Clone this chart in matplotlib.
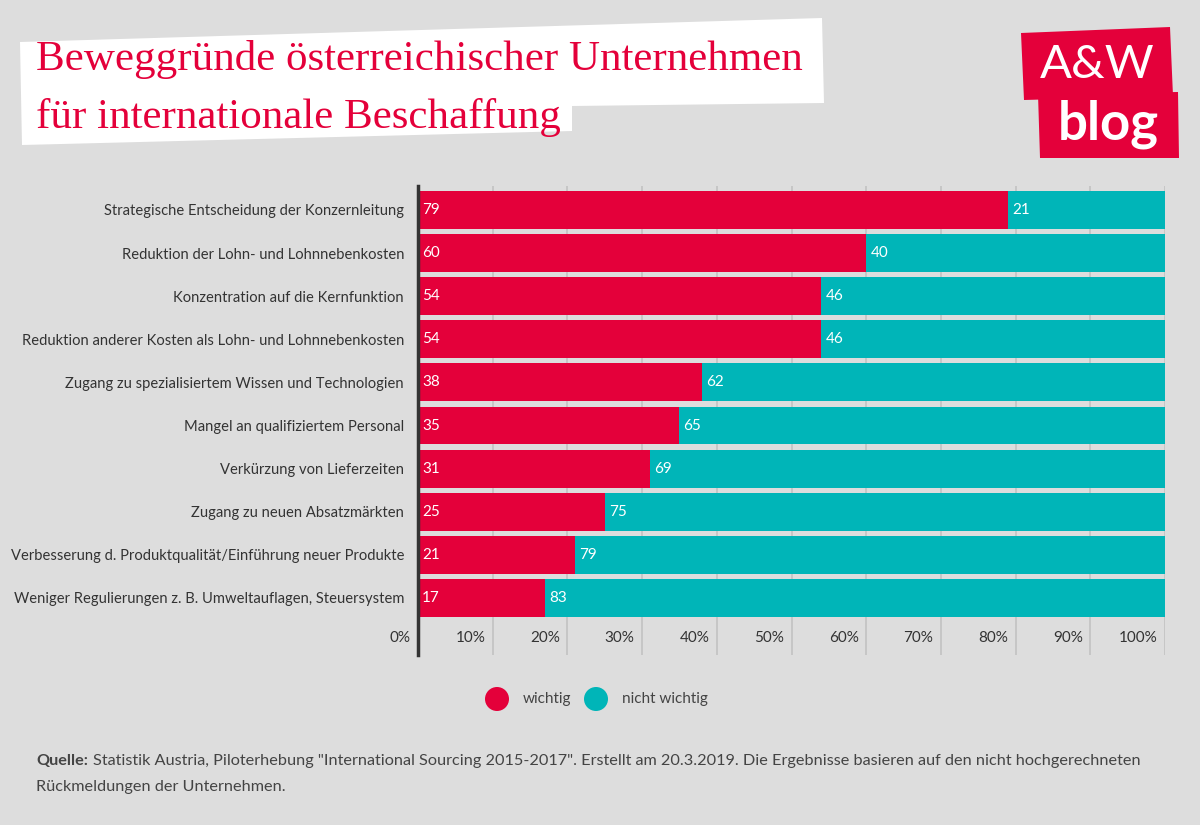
import matplotlib
matplotlib.use("Agg")
import matplotlib.pyplot as plt
from matplotlib.patches import Polygon, Circle

categories = [
    "Strategische Entscheidung der Konzernleitung",
    "Reduktion der Lohn- und Lohnnebenkosten",
    "Konzentration auf die Kernfunktion",
    "Reduktion anderer Kosten als Lohn- und Lohnnebenkosten",
    "Zugang zu spezialisiertem Wissen und Technologien",
    "Mangel an qualifiziertem Personal",
    "Verkürzung von Lieferzeiten",
    "Zugang zu neuen Absatzmärkten",
    "Verbesserung d. Produktqualität/Einführung neuer Produkte",
    "Weniger Regulierungen z. B. Umweltauflagen, Steuersystem",
]
wichtig = [79, 60, 54, 54, 38, 35, 31, 25, 21, 17]
nicht_wichtig = [21, 40, 46, 46, 62, 65, 69, 75, 79, 83]
tick_values = [0, 10, 20, 30, 40, 50, 60, 70, 80, 90, 100]
tick_labels = ["0%", "10%", "20%", "30%", "40%", "50%", "60%", "70%", "80%", "90%", "100%"]
series_names = ["wichtig", "nicht wichtig"]

RED = "#e4003a"
TEAL = "#00b5b8"
BG = "#dddddd"
TXT = "#333333"
FONT = ["Lato", "DejaVu Sans"]

W, H = 1200, 825
fig = plt.figure(figsize=(12, 8.25), dpi=100, facecolor=BG)

# overlay for decorations (pixel coords)
ov = fig.add_axes([0, 0, 1, 1], zorder=0)
ov.set_xlim(0, W)
ov.set_ylim(H, 0)
ov.axis("off")
ov.patch.set_alpha(0)

# title box
ov.add_patch(Polygon([(20, 42), (822, 18), (824, 103), (572, 106), (572, 131), (22, 145)],
                     closed=True, facecolor="white", edgecolor="none"))
title_font = ["Liberation Serif", "DejaVu Serif"]
ov.text(36, 70, "Beweggründe österreichischer Unternehmen", color=RED,
        fontsize=31, family=title_font, va="baseline", ha="left")
ov.text(36, 128, "für internationale Beschaffung", color=RED,
        fontsize=31, family=title_font, va="baseline", ha="left")

# logo
ov.add_patch(Polygon([(1021, 33), (1170, 27), (1173, 96), (1024, 100)],
                     closed=True, facecolor=RED, edgecolor="none"))
ov.add_patch(Polygon([(1038, 94), (1178, 92), (1179, 158), (1040, 158)],
                     closed=True, facecolor=RED, edgecolor="none"))
ov.text(1097, 65, "A&W", color="white", fontsize=34, family=FONT, ha="center", va="center")
ov.text(1108, 124, "blog", color="white", fontsize=38, family=FONT, fontweight="bold",
        ha="center", va="center")

# main axes
y0, pitch = 210, 43.1
top_px, bot_px = 186, 655
ax = fig.add_axes([418 / W, 1 - bot_px / H, 747 / W, (bot_px - top_px) / H], zorder=1)
ax.patch.set_alpha(0)
ypos = list(range(len(categories)))
ax.set_ylim((bot_px - y0) / pitch, (top_px - y0) / pitch)
ax.set_xlim(0, 100)

for v in tick_values[1:]:
    ax.axvline(v, color="#c2c2c2", lw=1.2, zorder=0)

ax.barh(ypos, wichtig, height=0.88, color=RED, zorder=2, label=series_names[0])
ax.barh(ypos, nicht_wichtig, left=wichtig, height=0.88, color=TEAL, zorder=2,
        label=series_names[1])

off = 0.55
for i in ypos:
    ax.text(off, i, str(wichtig[i]), color="white", fontsize=11, family=FONT,
            ha="left", va="center", zorder=3)
    ax.text(wichtig[i] + off, i, str(nicht_wichtig[i]), color="white", fontsize=11,
            family=FONT, ha="left", va="center", zorder=3)

ax.set_yticks(ypos)
ax.set_yticklabels(categories, family=FONT, fontsize=10.6, color=TXT)
ax.tick_params(axis="y", length=0, pad=10)
ax.set_xticks([])
for s in ["top", "right", "bottom"]:
    ax.spines[s].set_visible(False)
ax.spines["left"].set_color("#333333")
ax.spines["left"].set_linewidth(2.5)
ax.spines["left"].set_zorder(4)

ty = (638 - y0) / pitch
for v, lab in zip(tick_values, tick_labels):
    ax.text(v - 1.0, ty, lab, color=TXT, fontsize=11, family=FONT,
            ha="right", va="center", clip_on=False)

# legend
ov.add_patch(Circle((497, 699), 12, facecolor=RED, edgecolor="none"))
ov.text(523, 699, series_names[0], color="#444444", fontsize=11, family=FONT, va="center")
ov.add_patch(Circle((596, 699), 12, facecolor=TEAL, edgecolor="none"))
ov.text(622, 699, series_names[1], color="#444444", fontsize=11, family=FONT, va="center")

# footnote
ov.text(36, 761, "Quelle:", color="#444444", fontsize=11.7, family=FONT, fontweight="bold",
        va="center")
ov.text(93, 761, 'Statistik Austria, Piloterhebung "International Sourcing 2015-2017". '
        'Erstellt am 20.3.2019. Die Ergebnisse basieren auf den nicht hochgerechneten',
        color="#444444", fontsize=11.7, family=FONT, va="center")
ov.text(36, 787, "Rückmeldungen der Unternehmen.", color="#444444", fontsize=11.7,
        family=FONT, va="center")

fig.savefig("out.png", dpi=100, facecolor=BG)
